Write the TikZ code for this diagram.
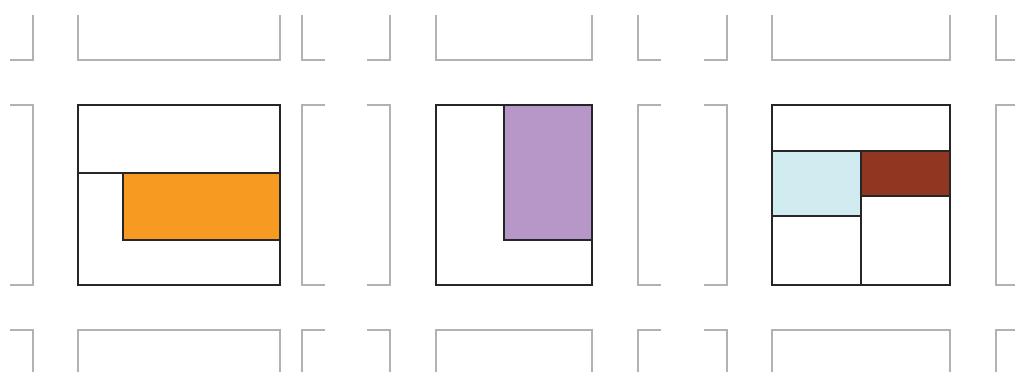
\documentclass[tikz,border=0pt]{standalone}
\usetikzlibrary{positioning}
\definecolor{orange}{RGB}{246,154,33}
\definecolor{purple}{RGB}{183,151,199}
\definecolor{lightblue}{RGB}{208,236,241}
\definecolor{brown}{RGB}{145,54,32}
\begin{document}
\begin{tikzpicture}[x=1pt, y=-1pt, line join=miter,
    cell/.style={draw=black!85, line width=1.2pt},
    ghost/.style={draw=gray!60, line width=1.5pt}]
    \clip (0,0) rectangle (1015,372);
    \fill[white] (0,0) rectangle (1015,372);

    % neighbouring cells, only their near edges
    \foreach \a/\b in {78/280, 436/592, 772/950} {
        \draw[ghost] (\a,15) -- (\a,60) -- (\b,60) -- (\b,15);
        \draw[ghost] (\a,372) -- (\a,330) -- (\b,330) -- (\b,372);
    }
    \foreach \l in {302, 638, 996} {
        \draw[ghost] (\l,15) -- (\l,60) -- (\l+23,60);
        \draw[ghost] (\l+23,105) -- (\l,105) -- (\l,285) -- (\l+23,285);
        \draw[ghost] (\l,372) -- (\l,330) -- (\l+23,330);
    }
    \foreach \r in {33, 390, 727} {
        \draw[ghost] (\r,15) -- (\r,60) -- (\r-23,60);
        \draw[ghost] (\r-23,105) -- (\r,105) -- (\r,285) -- (\r-23,285);
        \draw[ghost] (\r,372) -- (\r,330) -- (\r-23,330);
    }

    % cell 1
    \draw[cell, fill=white] (78,105) rectangle (280,285);
    \draw[cell] (78,173) -- (123,173);
    \draw[cell, fill=orange] (123,173) rectangle (280,240);

    % cell 2
    \draw[cell, fill=white] (436,105) rectangle (592,285);
    \draw[cell, fill=purple] (504,105) rectangle (592,240);

    % cell 3
    \draw[cell, fill=white] (772,105) rectangle (950,285);
    \draw[cell] (772,151) -- (950,151);
    \draw[cell] (861,151) -- (861,285);
    \draw[cell, fill=lightblue] (772,151) rectangle (861,216);
    \draw[cell, fill=brown] (861,151) rectangle (950,196);
\end{tikzpicture}
\end{document}
